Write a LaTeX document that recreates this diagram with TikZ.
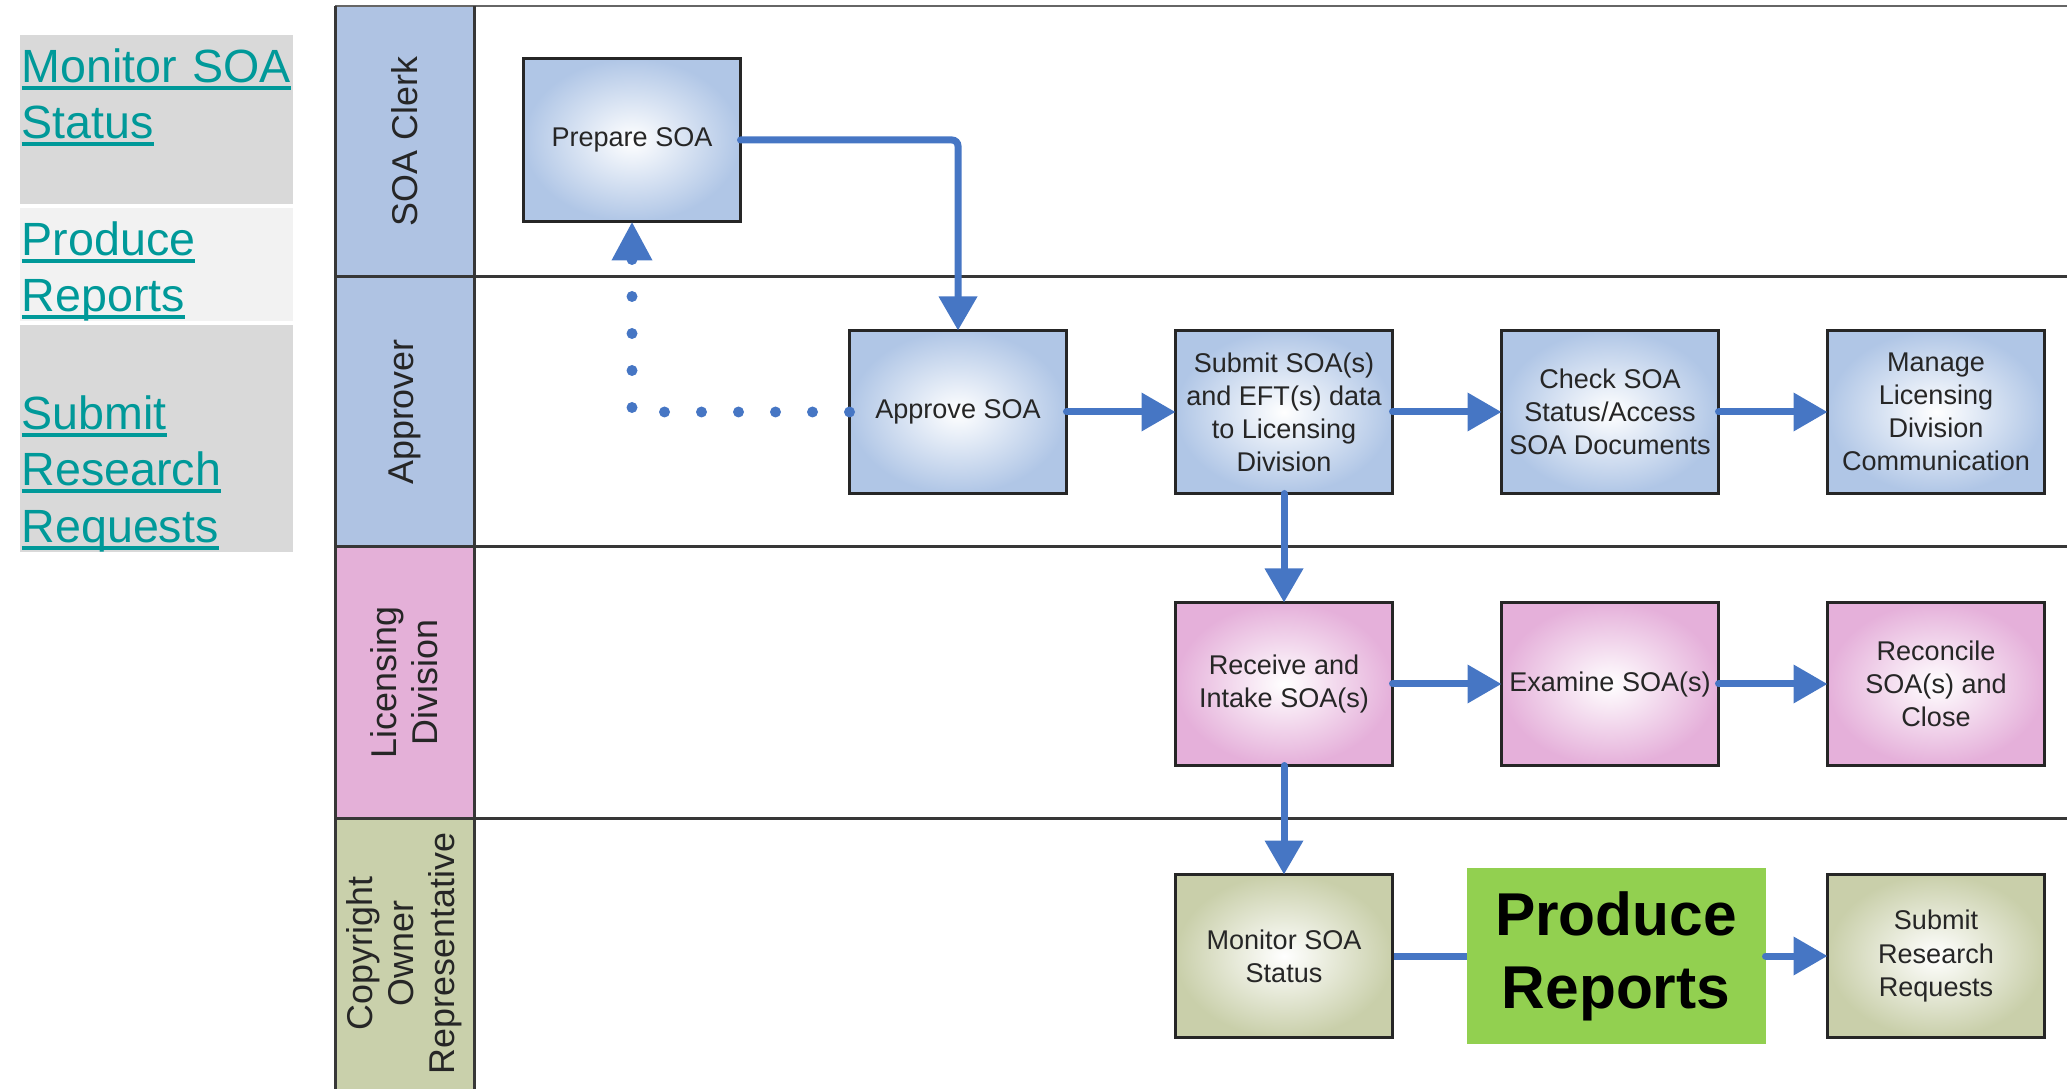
\documentclass[tikz,border=0pt]{standalone}
\usepackage{fontspec}
\setmainfont{Liberation Sans}
\usetikzlibrary{positioning,arrows.meta,backgrounds}

\definecolor{lanegrid}{RGB}{55,55,55}
\definecolor{laneblue}{RGB}{175,195,227}
\definecolor{lanepink}{RGB}{228,176,216}
\definecolor{laneolive}{RGB}{201,208,171}
\definecolor{boxblue}{RGB}{176,198,230}
\definecolor{boxpink}{RGB}{229,176,218}
\definecolor{boxolive}{RGB}{201,207,170}
\definecolor{flowblue}{RGB}{70,118,196}
\definecolor{linkteal}{RGB}{0,153,153}
\definecolor{cellgray}{RGB}{217,217,217}
\definecolor{celllight}{RGB}{242,242,242}
\definecolor{reportgreen}{RGB}{146,208,80}

\newcommand\lnk[1]{\leavevmode\setbox0\hbox{#1}\rlap{\rule[-0.075cm]{\wd0}{0.04cm}}\box0}
\newcommand\cellstrut{\leavevmode\rule[-0.085cm]{0pt}{0.56cm}}

\tikzset{
  task/.style={draw=black!85, line width=0.025cm, minimum width=2.17cm,
    minimum height=1.63cm, inner sep=0pt, outer sep=0pt, align=center,
    text=black!85, font=\fontsize{7.7pt}{9.4pt}\selectfont},
  bluetask/.style={task, inner color=white, outer color=boxblue},
  pinktask/.style={task, inner color=white, outer color=boxpink},
  olivetask/.style={task, inner color=white, outer color=boxolive},
  greentask/.style={fill=reportgreen, minimum width=2.99cm, minimum height=1.76cm,
    inner sep=0pt, outer sep=0pt, align=center,
    font=\fontsize{17.2pt}{20.8pt}\selectfont\bfseries},
  flow/.style={draw=flowblue, line width=0.07cm, line cap=round,
    -{Triangle[length=0.34cm,width=0.37cm]}},
  dotflow/.style={draw=flowblue, line width=0.11cm, line cap=round,
    dash pattern=on 0pt off 0.37cm, -{Triangle[length=0.39cm,width=0.38cm]}},
  lanelabel/.style={rotate=90, align=center, text=black!85,
    font=\fontsize{10.2pt}{11.7pt}\selectfont},
  linkcell/.style={anchor=north west, text width=2.69cm, inner xsep=0.02cm,
    inner ysep=0pt, align=left, text=linkteal,
    font=\fontsize{13.26pt}{16.07pt}\selectfont},
}

\begin{document}
\begin{tikzpicture}[node distance=1.09cm]
  \useasboundingbox (0,0) rectangle (20.67,-10.89);

  \node[linkcell, fill=cellgray] (monlink) at (0.19,-0.34)
    {\lnk{Monitor SOA}\cellstrut\\\lnk{Status}\cellstrut\\\cellstrut};
  \node[linkcell, fill=celllight, below=0.025cm of monlink] (prodlink)
    {\lnk{Produce}\cellstrut\\\lnk{Reports}\cellstrut};
  \node[linkcell, fill=cellgray, below=0.025cm of prodlink] (reqlink)
    {\cellstrut\\\lnk{Submit}\cellstrut\\\lnk{Research}\cellstrut\\\lnk{Requests}\cellstrut};

  \begin{scope}[lanegrid, line width=0.03cm]
    \fill[laneblue]  (3.35,-0.06) rectangle (4.74,-2.77);
    \fill[laneblue]  (3.35,-2.77) rectangle (4.74,-5.47);
    \fill[lanepink]  (3.35,-5.47) rectangle (4.74,-8.18);
    \fill[laneolive] (3.35,-8.18) rectangle (4.74,-10.89);
    \draw[line width=0.02cm, black!60] (3.35,-0.06) -- (20.67,-0.06);
    \draw (3.35,-0.06) -- (3.35,-10.89);
    \draw (4.74,-0.06) -- (4.74,-10.89);
    \draw (3.35,-2.77) -- (20.67,-2.77);
    \draw (3.35,-5.47) -- (20.67,-5.47);
    \draw (3.35,-8.18) -- (20.67,-8.18);
  \end{scope}

  \node[lanelabel] (clerklbl)    at (4.045,-1.415) {SOA Clerk};
  \node[lanelabel] (approverlbl) at (4.045,-4.12)  {Approver};
  \node[lanelabel] (liclbl)      at (4.045,-6.825) {Licensing\\Division};
  \node[lanelabel] (ownerlbl)    at (4.045,-9.535) {Copyright\\Owner\\Representative};

  \node[bluetask] (prep) at (6.32,-1.40) {Prepare SOA};
  \node[bluetask, below right=1.09cm and 1.09cm of prep] (appr) {Approve SOA};
  \node[bluetask, right=of appr] (subm) {Submit SOA(s)\\and EFT(s) data\\to Licensing\\Division};
  \node[bluetask, right=of subm] (check) {Check SOA\\Status/Access\\SOA Documents};
  \node[bluetask, right=of check] (manage) {Manage\\Licensing\\Division\\Communication};

  \node[pinktask, below=of subm] (recv) {Receive and\\Intake SOA(s)};
  \node[pinktask, right=of recv] (exam) {Examine SOA(s)};
  \node[pinktask, right=of exam] (recon) {Reconcile\\SOA(s) and\\Close};

  \node[olivetask, below=of recv] (mon) {Monitor SOA\\Status};
  \node[greentask, right=0.74cm of mon] (prodrep) {Produce\\Reports};
  \node[olivetask, right=0.62cm of prodrep] (research) {Submit\\Research\\Requests};

  \draw[flow, rounded corners=0.06cm] (prep) -| (appr);
  \draw[dotflow] (appr) -| (prep);
  \draw[flow] (appr) -- (subm);
  \draw[flow] (subm) -- (check);
  \draw[flow] (check) -- (manage);
  \draw[flow] (subm) -- (recv);
  \draw[flow] (recv) -- (exam);
  \draw[flow] (exam) -- (recon);
  \draw[flow] (recv) -- (mon);
  \begin{scope}[on background layer]
    \draw[flow, shorten >=-0.35cm] (mon) -- (prodrep);
  \end{scope}
  \draw[flow] (prodrep) -- (research);
\end{tikzpicture}
\end{document}
